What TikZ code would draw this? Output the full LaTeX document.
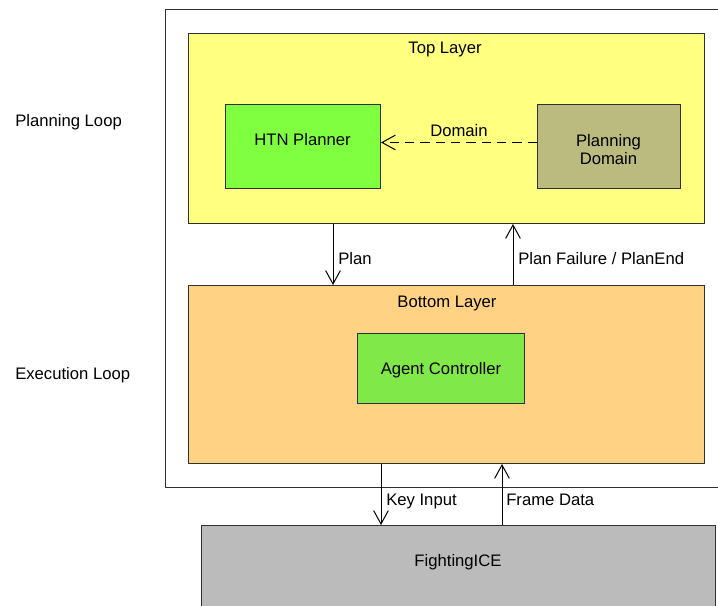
\documentclass[tikz,border=0pt]{standalone}
\usepackage{fontspec}
\setmainfont{Liberation Sans}
\usetikzlibrary{arrows.meta}

\definecolor{toplayerfill}{HTML}{FFFF80}
\definecolor{botlayerfill}{HTML}{FFD284}
\definecolor{plannerfill}{HTML}{80FF40}
\definecolor{domainfill}{HTML}{BBBB80}
\definecolor{agentfill}{HTML}{80E848}
\definecolor{gamefill}{HTML}{BBBBBB}
\definecolor{edge}{HTML}{303030}

\begin{document}
\begin{tikzpicture}[x=0.75pt, y=-0.75pt,
  font=\fontsize{12.5pt}{13.5pt}\selectfont,
  box/.style={draw=edge, line width=0.75pt, inner sep=0pt, anchor=north west},
  sized/.style 2 args={minimum width=#1*0.75pt, minimum height=#2*0.75pt},
  txt/.style={inner sep=0pt},
  arr/.style={draw=black, line width=0.75pt, -{Straight Barb[length=10pt,width=11pt]}},
  dasharr/.style={arr, dash pattern=on 7pt off 4.5pt}]

\useasboundingbox (0,0) rectangle (718,606);
\clip (0,0) rectangle (718,606);

% enclosing frame of the agent
\node[box, sized={600}{478}] (frame) at (165,9) {};

% planning layer
\node[box, sized={516}{190}, fill=toplayerfill] (toplayer) at (188,33) {};
\node[txt, anchor=base] (toptitle) at (445,54) {Top Layer};
\node[box, sized={155}{84}, fill=plannerfill] (htn) at (225,104) {};
\node[txt, anchor=base] (htntext) at (302.5,146) {HTN Planner};
\node[box, sized={143}{84}, fill=domainfill] (pd) at (537,104) {};
\node[txt, align=center] (pdtext) at (608.5,150) {Planning\\Domain};
\draw[dasharr] ([yshift=3pt]pd.west) -- ([yshift=3pt]htn.east)
  node[txt, midway, anchor=base, yshift=4.5pt] (domlabel) {Domain};

% execution layer
\node[box, sized={516}{178}, fill=botlayerfill] (botlayer) at (188,285) {};
\node[txt, anchor=base] (bottitle) at (447,307) {Bottom Layer};
\node[box, sized={167}{70}, fill=agentfill, text depth=0pt] (agent) at (357,333) {Agent Controller};

% game engine
\node[box, sized={514}{120}, fill=gamefill] (fice) at (201,525) {};
\node[txt, anchor=base] (ficetext) at (458,566) {FightingICE};

% connector positions
\coordinate (planx) at (333,0);
\coordinate (failx) at (513,0);
\coordinate (keyx) at (381,0);
\coordinate (framex) at (502,0);

\draw[arr] (toplayer.south -| planx) -- (botlayer.north -| planx);
\draw[arr] (botlayer.north -| failx) -- (toplayer.south -| failx);
\draw[arr] (botlayer.south -| keyx) -- (fice.north -| keyx);
\draw[arr] (fice.north -| framex) -- (botlayer.south -| framex);

\node[txt, anchor=base west] (planlabel) at (338,265) {Plan};
\node[txt, anchor=base west] (faillabel) at (518,265) {Plan Failure / PlanEnd};
\node[txt, anchor=base west] (keylabel) at (386,505) {Key Input};
\node[txt, anchor=base west] (framelabel) at (506,505) {Frame Data};

% loop captions
\node[txt, anchor=base west] (planloop) at (15,127) {Planning Loop};
\node[txt, anchor=base west] (execloop) at (15,379) {Execution Loop};
\end{tikzpicture}
\end{document}
